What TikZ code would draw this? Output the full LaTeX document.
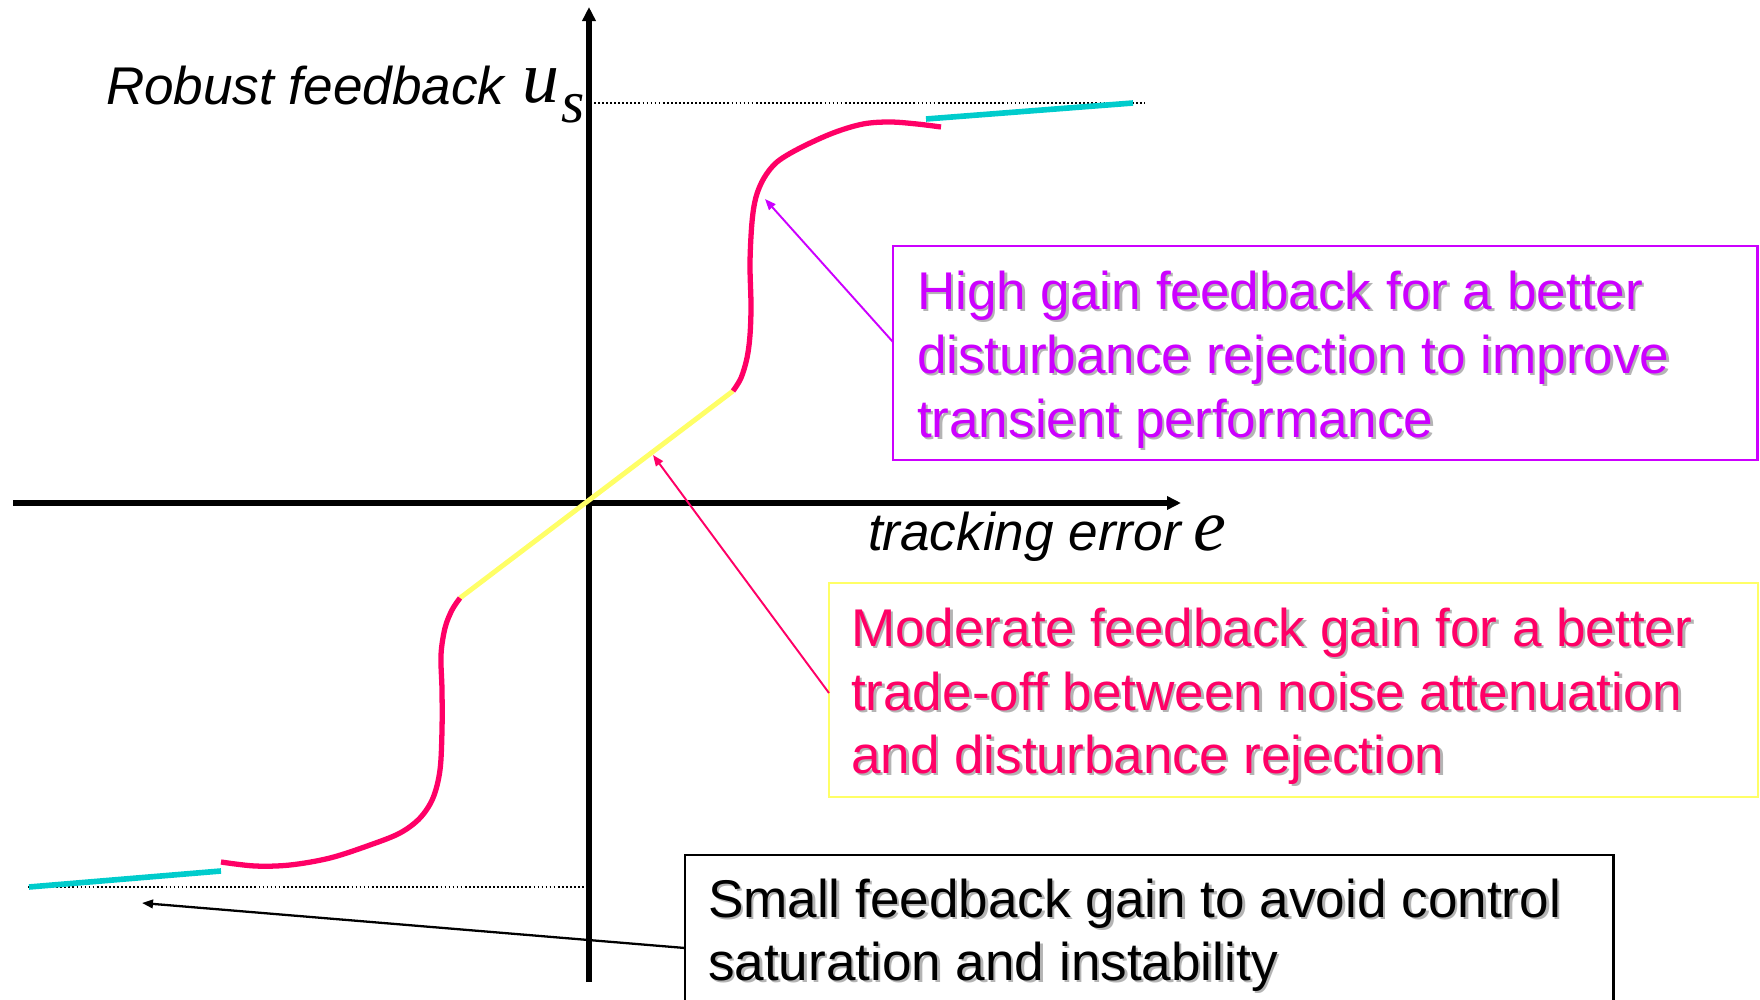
\documentclass[tikz,border=0pt]{standalone}
\usepackage{fontspec}
\setmainfont{Liberation Sans}
\newfontfamily\tmsfont{Liberation Serif}
\usetikzlibrary{arrows.meta,calc}
\definecolor{purp}{HTML}{CC00FF}
\definecolor{redp}{HTML}{FF0066}
\definecolor{yel}{HTML}{FFFF66}
\definecolor{cyn}{HTML}{00CCCC}
\definecolor{shd}{HTML}{B4B4B4}
\newcommand\sline[5]{%
  \node[txt,text=shd] at ([shift={(2.5,2.5)}]#2,#3) {#5};
  \node[txt,text=#4] (#1) at (#2,#3) {#5};}
\begin{document}
\begin{tikzpicture}[x=0.01cm,y=-0.01cm,
  txt/.style={anchor=base west, inner sep=0pt, outer sep=0pt, font=\fontsize{15.1pt}{18pt}\selectfont},
  boxnode/.style={draw=#1, line width=0.6pt, anchor=north west, inner sep=0pt, outer sep=0pt},
  axisline/.style={line width=#1, -{Triangle[length=1.4mm,width=1.3mm]}},
  pointer/.style={draw=#1, line width=0.55pt, -{Triangle[length=1.1mm,width=0.85mm]}},
  guide/.style={line width=0.5pt, dash pattern=on 0.5pt off 0.65pt},
  curvered/.style={redp, line width=1.5pt, line join=round},
  sat/.style={cyn, line width=1.6pt},
  linpart/.style={yel, line width=1.4pt}]
\useasboundingbox (0,0) rectangle (1760,1000);
% axes
\coordinate (ybot) at (589,982);
\coordinate (ytop) at (589,7);
\coordinate (xleft) at (13,503);
\coordinate (xright) at (1181,503);
\draw[axisline=1.5pt] (ybot) -- (ytop);
\draw[axisline=1.8pt] (xleft) -- (xright);
% guide lines
\coordinate (gt1) at (594,103);
\coordinate (gt2) at (1145,103);
\coordinate (gb1) at (28,887);
\coordinate (gb2) at (586,887);
\draw[guide] (gt1) -- (gt2);
\draw[guide] (gb1) -- (gb2);
% curve
\coordinate (cb1) at (29,887);
\coordinate (cb2) at (221,871);
\coordinate (ct1) at (926,119);
\coordinate (ct2) at (1133,103);
\coordinate (ylo) at (460,598);
\coordinate (yhi) at (733,391);
\draw[sat] (cb1) -- (cb2);
\draw[sat] (ct1) -- (ct2);
\draw[linpart] (ylo) -- (yhi);
\draw[curvered] plot[smooth,tension=0.55] coordinates {(221,862) (255,866) (290,865) (330,858) (370,845) (400,833) (420,818) (433,798) (440,770) (442,730) (442,690) (441,655) (445,628) (452,610) (460,598)};
\draw[curvered] plot[smooth,tension=0.55] coordinates {(733,391) (741,378) (747,358) (750,335) (751,305) (750,263) (752,222) (756,197) (764,178) (777,162) (800,148) (833,133) (863,124) (890,122) (917,124) (941,127)};
% axis labels
\node[txt] (rl) at (106,104) {\itshape Robust feedback};
\node[anchor=base west, inner sep=0pt] (ul) at (522,103) {\tmsfont\itshape\fontsize{21pt}{24pt}\selectfont u};
\node[anchor=base west, inner sep=0pt] (sl) at (561,123) {\tmsfont\itshape\fontsize{17pt}{20pt}\selectfont s};
\node[txt] (tl) at (868,550) {\itshape tracking error};
\node[anchor=base west, inner sep=0pt] (el) at (1193,550) {\tmsfont\itshape\fontsize{21pt}{24pt}\selectfont e};
% boxes
\node[boxnode=purp, minimum width=86.4mm, minimum height=21.4mm] (hb) at (893,246) {};
\node[boxnode=yel, minimum width=92.8mm, minimum height=21.4mm] (mb) at (829,583) {};
\node[boxnode=black, minimum width=92.8mm, minimum height=16mm] (sb) at (685,855) {};
\sline{h1}{917}{309}{purp}{High gain feedback for a better}
\sline{h2}{917}{373}{purp}{disturbance rejection to improve}
\sline{h3}{917}{437}{purp}{transient performance}
\sline{m1}{851}{646}{redp}{Moderate feedback gain for a better}
\sline{m2}{851}{710}{redp}{trade-off between noise attenuation}
\sline{m3}{851}{773}{redp}{and disturbance rejection}
\sline{s1}{708}{917}{black}{Small feedback gain to avoid control}
\sline{s2}{708}{980}{black}{saturation and instability}
% pointers
\coordinate (ptip) at (765,199);
\coordinate (rtip) at (653,455);
\coordinate (btip) at (142,903);
\draw[pointer=purp] ($(hb.north west)+(0,96)$) -- (ptip);
\draw[pointer=redp] ($(mb.north west)+(0,110)$) -- (rtip);
\draw[pointer=black, line width=0.65pt] ($(sb.north west)+(0,93)$) -- (btip);
\end{tikzpicture}
\end{document}
